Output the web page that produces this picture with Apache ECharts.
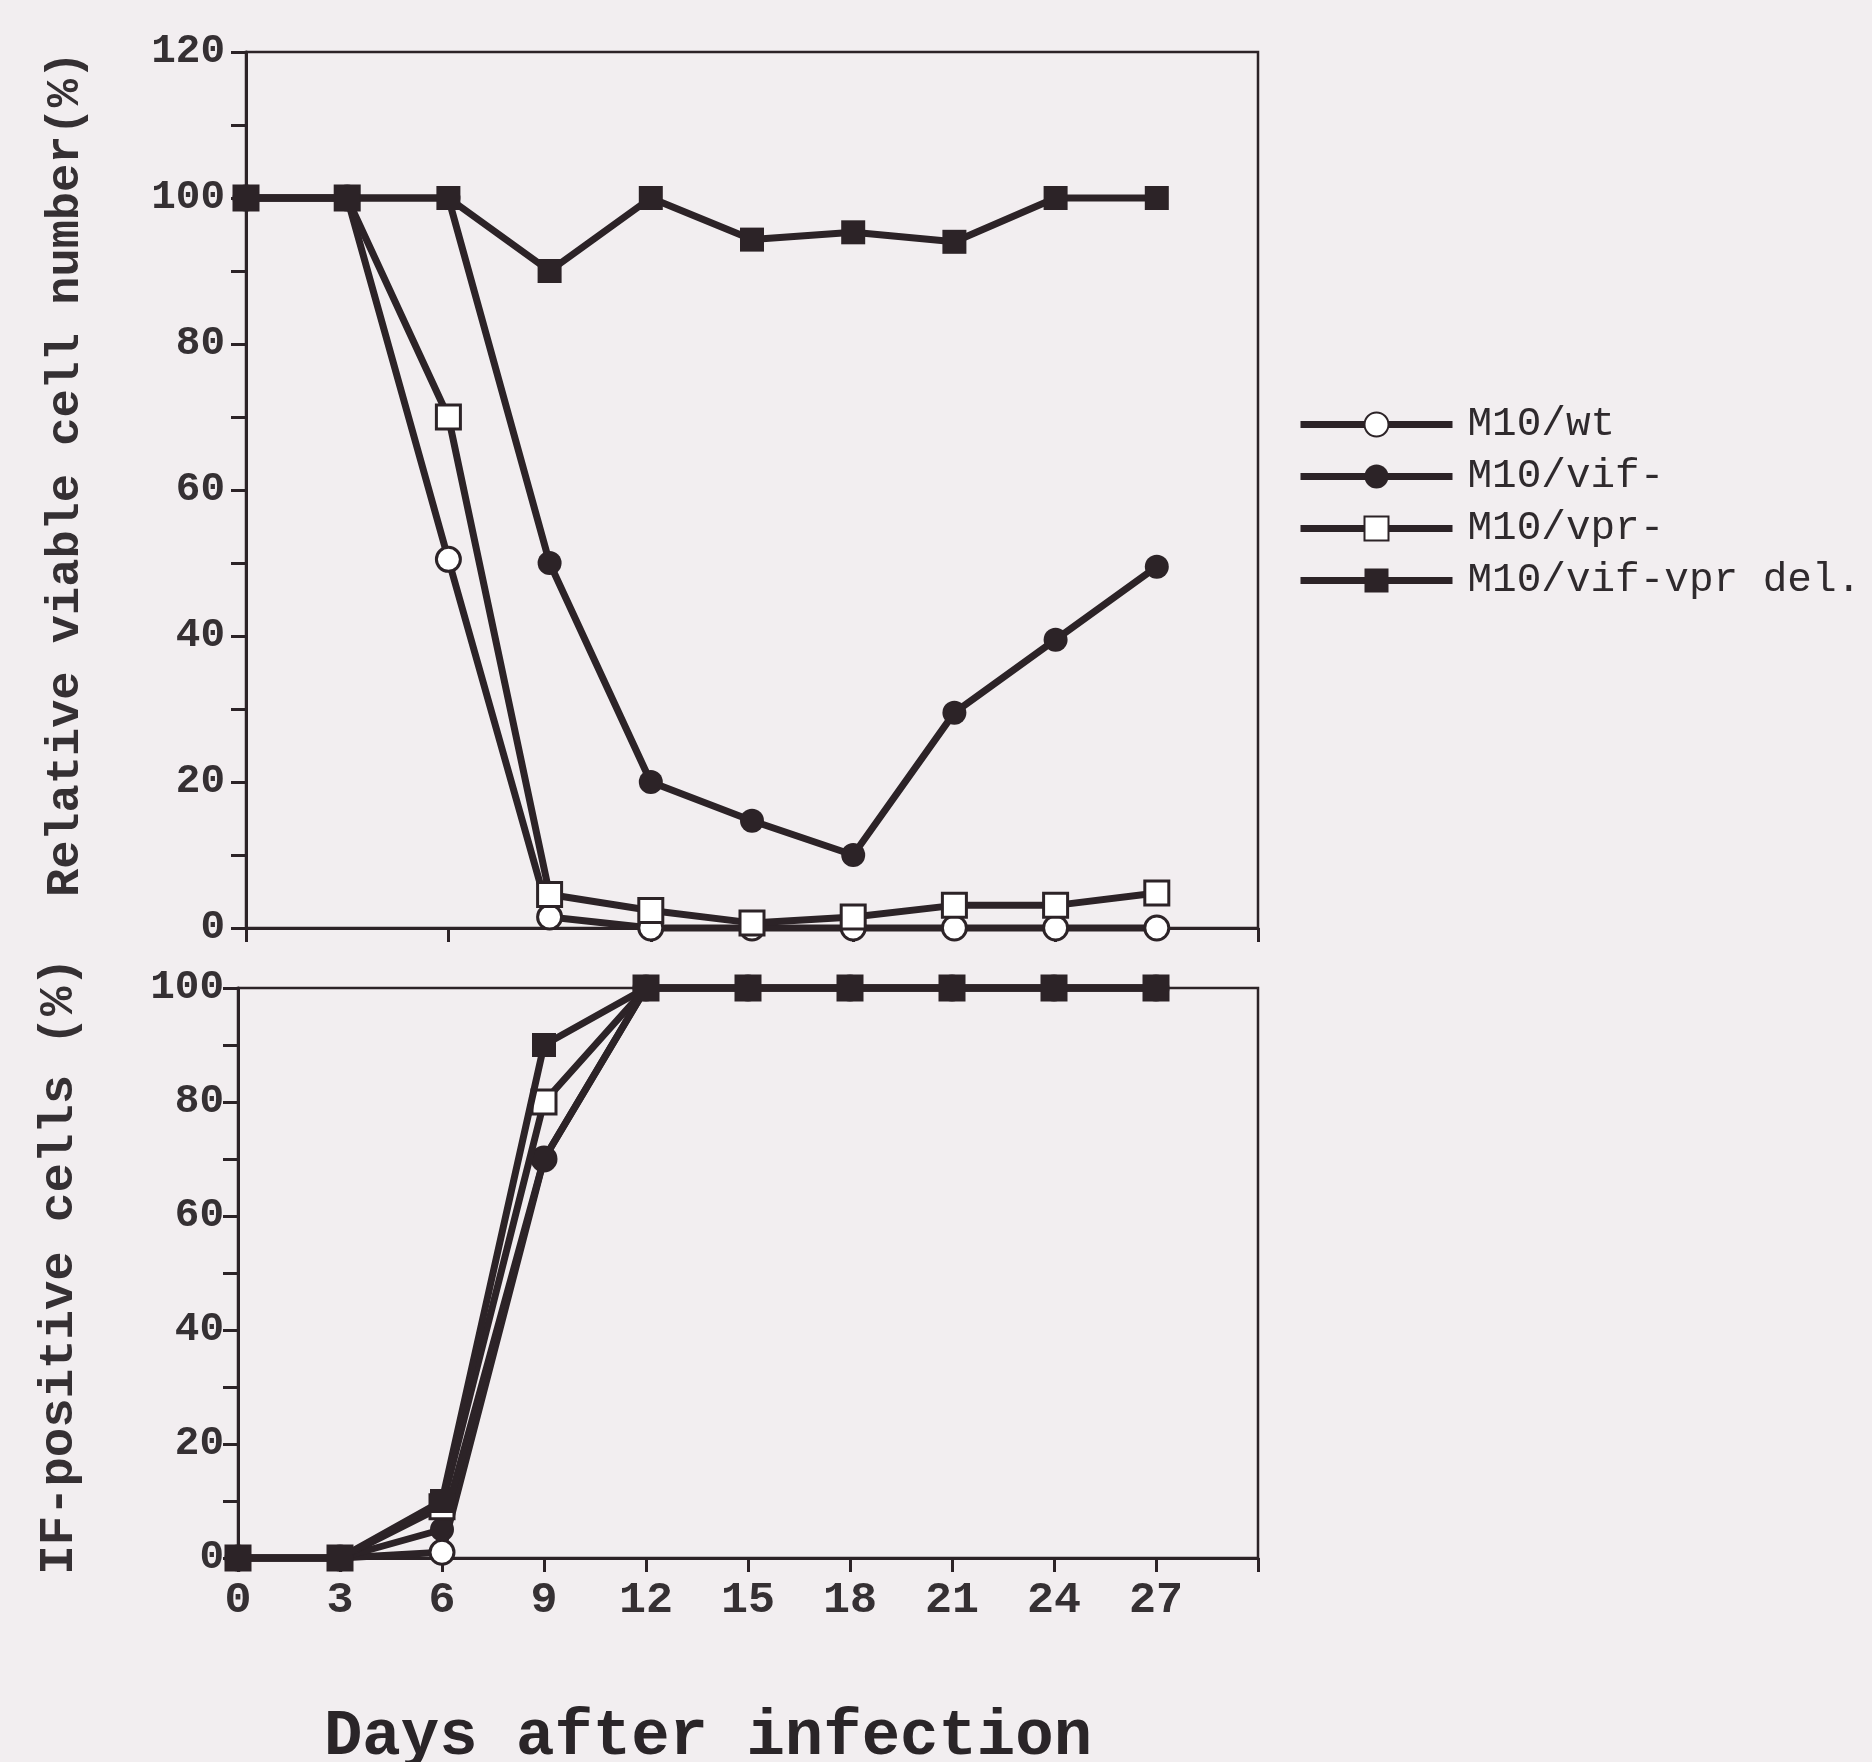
<!DOCTYPE html>
<html>
<head>
<meta charset="utf-8">
<title>Relative viable cell number and IF-positive cells after infection</title>
<script src="https://cdn.jsdelivr.net/npm/echarts@6/dist/echarts.min.js"></script>
<style>
  html, body { margin: 0; padding: 0; background: #f2eef0; }
  #chart { width: 1872px; height: 1762px; }
</style>
</head>
<body>
<div id="chart"></div>
<script>
// Sampling days (days after infection)
const days = [0, 3, 6, 9, 12, 15, 18, 21, 24, 27];

// Series names
const seriesNames = ['M10/wt', 'M10/vif-', 'M10/vpr-', 'M10/vif-vpr del.'];

// Relative viable cell number (%)
const viableWt     = [100, 100, 50.5, 1.5, 0, 0, 0, 0, 0, 0];
const viableVif    = [100, 100, 100, 50, 20, 14.7, 10, 29.5, 39.5, 49.5];
const viableVpr    = [100, 100, 70, 4.6, 2.4, 0.7, 1.5, 3.1, 3.1, 4.8];
const viableDel    = [100, 100, 100, 90, 100, 94.3, 95.3, 94, 100, 100];

// IF-positive cells (%)
const ifWt  = [0, 0, 1, 70, 100, 100, 100, 100, 100, 100];
const ifVif = [0, 0, 5, 70, 100, 100, 100, 100, 100, 100];
const ifVpr = [0, 0, 9, 80, 100, 100, 100, 100, 100, 100];
const ifDel = [0, 0, 10, 90, 100, 100, 100, 100, 100, 100];

// Axis tick labels
const xTickLabels = ['0', '3', '6', '9', '12', '15', '18', '21', '24', '27'];
const viableTickLabels = ['0', '20', '40', '60', '80', '100', '120'];
const ifTickLabels = ['0', '20', '40', '60', '80', '100'];

const INK = '#2c2327';
const LABEL = '#353033';
const MONO = "'Liberation Mono', 'Courier New', monospace";
const LINE_W = 7;

const markerStyles = [
  { symbol: 'circle', itemStyle: { color: '#ffffff', borderColor: INK, borderWidth: 3 } },
  { symbol: 'circle', itemStyle: { color: INK, borderColor: INK, borderWidth: 0 } },
  { symbol: 'rect',   itemStyle: { color: '#ffffff', borderColor: INK, borderWidth: 3 } },
  { symbol: 'rect',   itemStyle: { color: INK, borderColor: INK, borderWidth: 0 } }
];

function pairs(values) {
  return days.map((d, i) => [d, values[i]]);
}

function makeSeries(idx, values, axisIndex) {
  const m = markerStyles[idx];
  return {
    name: seriesNames[idx],
    type: 'line',
    xAxisIndex: axisIndex,
    yAxisIndex: axisIndex,
    data: pairs(values),
    symbol: m.symbol,
    symbolSize: 24,
    showAllSymbol: true,
    clip: false,
    lineStyle: { color: INK, width: LINE_W },
    itemStyle: m.itemStyle,
    emphasis: { disabled: true },
    z: 2 + idx
  };
}

function yAxisCfg(gridIndex, max, labels) {
  return {
    type: 'value',
    gridIndex: gridIndex,
    min: 0,
    max: max,
    interval: 10,
    splitLine: { show: false },
    axisLine: { show: true, lineStyle: { color: INK, width: 3 } },
    axisTick: { show: true, inside: false, length: 15, lineStyle: { color: INK, width: 3 } },
    axisLabel: {
      margin: gridIndex === 0 ? 21 : 14,
      color: LABEL,
      fontFamily: MONO,
      fontWeight: 'bold',
      fontSize: 41,
      formatter: v => (labels.indexOf(String(v)) >= 0 ? String(v) : '')
    }
  };
}

const chart = echarts.init(document.getElementById('chart'), null, { renderer: 'canvas' });

chart.setOption({
  animation: false,
  backgroundColor: '#f2eef0',
  grid: [
    { left: 246, top: 52, width: 1012, height: 876, show: true, borderColor: INK, borderWidth: 2.5, backgroundColor: 'transparent' },
    { left: 238, top: 988, width: 1020, height: 570, show: true, borderColor: INK, borderWidth: 2.5, backgroundColor: 'transparent' }
  ],
  xAxis: [
    {
      type: 'value', gridIndex: 0, min: 0, max: 30, interval: 6,
      splitLine: { show: false },
      axisLine: { show: true, onZero: false, lineStyle: { color: INK, width: 3 } },
      axisTick: { show: true, length: 14, lineStyle: { color: INK, width: 3 } },
      axisLabel: { show: false }
    },
    {
      type: 'value', gridIndex: 1, min: 0, max: 30, interval: 3,
      splitLine: { show: false },
      axisLine: { show: true, onZero: false, lineStyle: { color: INK, width: 3 } },
      axisTick: { show: true, length: 14, lineStyle: { color: INK, width: 3 } },
      axisLabel: {
        margin: 20,
        color: LABEL,
        fontFamily: MONO,
        fontWeight: 'bold',
        fontSize: 45,
        formatter: v => (xTickLabels.indexOf(String(v)) >= 0 ? String(v) : '')
      }
    }
  ],
  yAxis: [
    yAxisCfg(0, 120, viableTickLabels),
    yAxisCfg(1, 100, ifTickLabels)
  ],
  legend: {
    orient: 'vertical',
    left: 1292,
    top: 399,
    itemWidth: 152,
    itemHeight: 30,
    itemGap: 11,
    selectedMode: false,
    data: seriesNames,
    lineStyle: { color: INK, width: LINE_W },
    textStyle: {
      fontFamily: MONO,
      fontSize: 41,
      lineHeight: 41,
      color: '#2f2a2d',
      padding: [0, 0, 0, 10]
    }
  },
  series: [
    makeSeries(0, viableWt, 0),
    makeSeries(1, viableVif, 0),
    makeSeries(2, viableVpr, 0),
    makeSeries(3, viableDel, 0),
    makeSeries(0, ifWt, 1),
    makeSeries(1, ifVif, 1),
    makeSeries(2, ifVpr, 1),
    makeSeries(3, ifDel, 1)
  ],
  graphic: [
    {
      type: 'text',
      x: 66, y: 474,
      rotation: Math.PI / 2,
      style: {
        text: 'Relative viable cell number(%)',
        fontFamily: MONO, fontWeight: 'bold', fontSize: 47,
        fill: LABEL, align: 'center', verticalAlign: 'middle'
      }
    },
    {
      type: 'text',
      x: 60, y: 1266,
      rotation: Math.PI / 2,
      style: {
        text: 'IF-positive cells (%)',
        fontFamily: MONO, fontWeight: 'bold', fontSize: 49,
        fill: LABEL, align: 'center', verticalAlign: 'middle'
      }
    },
    {
      type: 'text',
      x: 708, y: 1738,
      style: {
        text: 'Days after infection',
        fontFamily: MONO, fontWeight: 'bold', fontSize: 64,
        fill: '#2a2528', align: 'center', verticalAlign: 'middle'
      }
    }
  ]
});
</script>
</body>
</html>
